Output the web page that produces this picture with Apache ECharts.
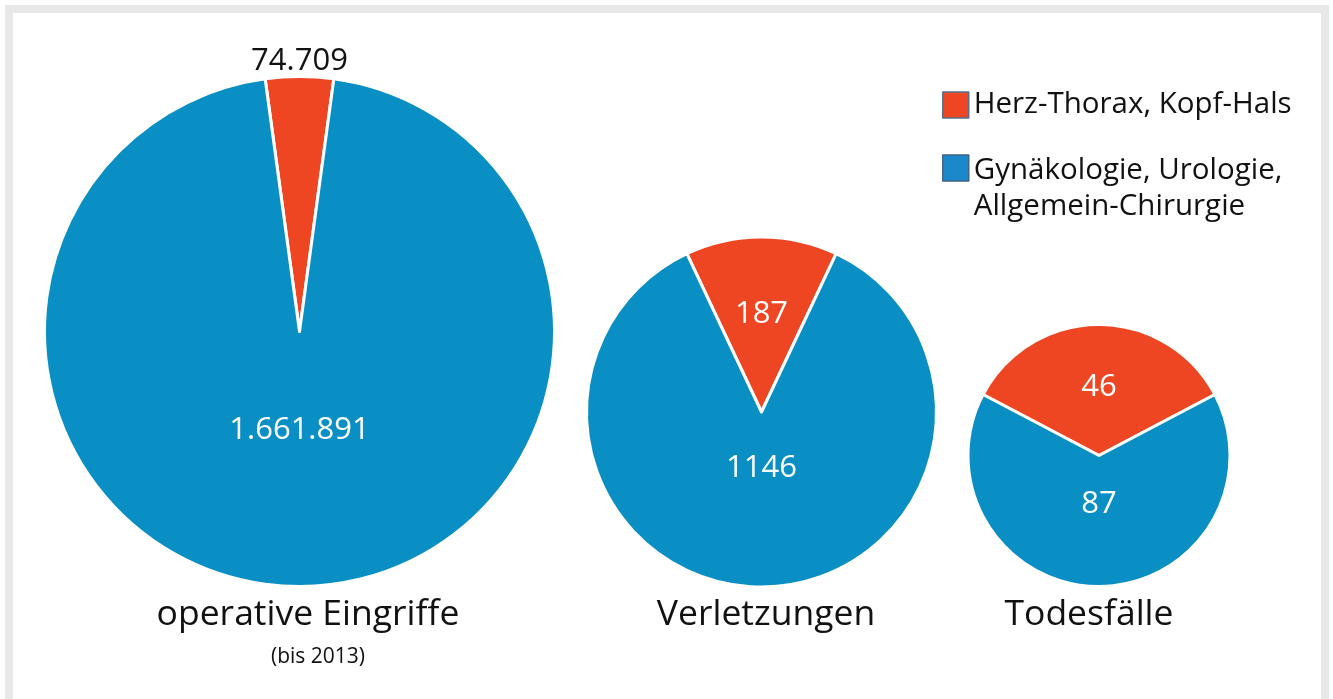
<!DOCTYPE html>
<html>
<head>
<meta charset="utf-8">
<script src="https://cdn.jsdelivr.net/npm/echarts@6/dist/echarts.min.js"></script>
<style>
  body { margin: 0; background: #fff; }
  #frame {
    position: absolute; left: 5px; top: 5px;
    width: 1324px; height: 720px;
    box-sizing: border-box;
    border: 8px solid #e8e8e8;
  }
  #chart { position: absolute; left: 0; top: 0; width: 1333px; height: 699px; }
</style>
</head>
<body>
<div id="frame"></div>
<div id="chart"></div>
<script>
var groups = ['operative Eingriffe', 'Verletzungen', 'Todesfälle']
var subTitle = '(bis 2013)'
var categories = ['Herz-Thorax, Kopf-Hals', 'Gynäkologie, Urologie,\nAllgemein-Chirurgie']
var herzThorax = [74709, 187, 46]
var gynUroAllg = [1661891, 1146, 87]

var RED = '#ee4623'
var BLUE = '#0a8fc5'
var FONT = 'Open Sans'

// pie geometry (px) and label nudges (spacer height = 2 * upward shift)
var centers = [[299.5, 331.5], [761.5, 412], [1099, 455.5]]
var radii = [255, 175, 131]
var redShift = [280, 14, 0]
var blueShift = [64, 68, 40]

function fmt (v) {
  if (v < 10000) return String(v)
  return String(v).replace(/\B(?=(\d{3})+(?!\d))/g, '.')
}

function labelCfg (color, spacer) {
  return {
    show: true,
    position: 'inside',
    formatter: function (p) { return '{v|' + fmt(p.value) + '}\n{s|}' },
    rich: {
      v: { color: color, fontSize: 31, fontFamily: FONT, lineHeight: 36 },
      s: { height: spacer, lineHeight: spacer }
    }
  }
}

var chart = echarts.init(document.getElementById('chart'))

var series = groups.map(function (g, i) {
  var red = herzThorax[i]
  var blue = gynUroAllg[i]
  return {
    name: g,
    type: 'pie',
    center: centers[i],
    radius: [0, radii[i]],
    startAngle: 90 + 180 * red / (red + blue),
    clockwise: true,
    silent: true,
    itemStyle: { borderColor: '#fff', borderWidth: 3 },
    labelLine: { show: false },
    data: [
      { name: categories[0], value: red, itemStyle: { color: RED },
        label: labelCfg(i === 0 ? '#111' : '#fff', redShift[i]) },
      { name: categories[1], value: blue, itemStyle: { color: BLUE },
        label: labelCfg('#fff', blueShift[i]) }
    ]
  }
})

chart.setOption({
  animation: false,
  legend: {
    orient: 'vertical',
    left: 937,
    top: 85,
    itemWidth: 26,
    itemHeight: 26,
    itemGap: -9,
    icon: 'rect',
    selectedMode: false,
    formatter: function (name) {
      var lines = name.split('\n')
      if (lines.length === 1) return '{t|' + name + '}'
      return '{s|}\n{t|' + lines[0] + '}\n{t|' + lines[1] + '}'
    },
    textStyle: {
      rich: {
        t: { fontSize: 29.5, fontFamily: FONT, color: '#111', lineHeight: 36 },
        s: { height: 42, lineHeight: 42 }
      }
    },
    data: [
      { name: categories[0], itemStyle: { color: RED, borderColor: '#55708a', borderWidth: 1.5 } },
      { name: categories[1], itemStyle: { color: '#1c88cc', borderColor: '#3f6688', borderWidth: 1.5 } }
    ]
  },
  graphic: [
    { type: 'text', x: 308, y: 615, style: { text: groups[0], fontSize: 35.5, fontFamily: FONT, fill: '#111', align: 'center', verticalAlign: 'middle' } },
    { type: 'text', x: 318, y: 657, style: { text: subTitle, fontSize: 21, fontFamily: FONT, fill: '#111', align: 'center', verticalAlign: 'middle' } },
    { type: 'text', x: 766, y: 615, style: { text: groups[1], fontSize: 35.5, fontFamily: FONT, fill: '#111', align: 'center', verticalAlign: 'middle' } },
    { type: 'text', x: 1089, y: 615, style: { text: groups[2], fontSize: 35.5, fontFamily: FONT, fill: '#111', align: 'center', verticalAlign: 'middle' } }
  ],
  series: series
})
</script>
</body>
</html>
